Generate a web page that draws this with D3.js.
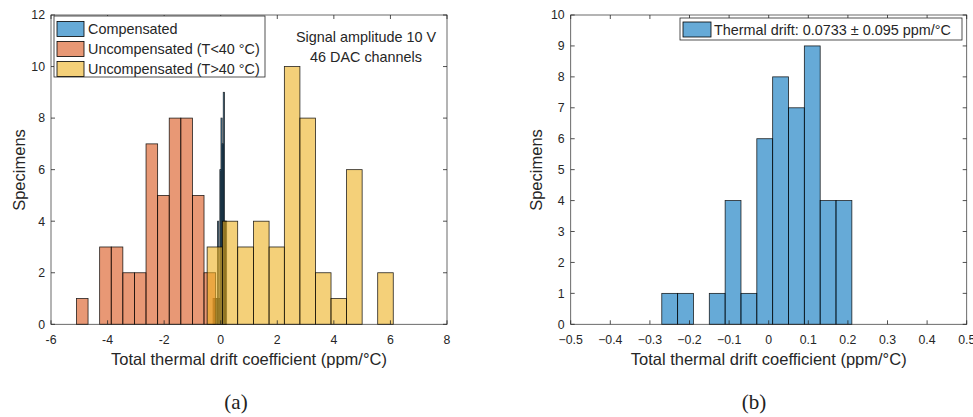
<!DOCTYPE html>
<html>
<head>
<meta charset="utf-8">
<script src="https://cdn.jsdelivr.net/npm/d3@7"></script>
<style>
  html, body { margin: 0; padding: 0; background: #fff; }
  svg { display: block; }
  text { font-family: "Liberation Sans", Arial, Helvetica, sans-serif; fill: #262626; }
  text.serif { font-family: "Liberation Serif", "DejaVu Serif", serif; fill: #222; }
</style>
</head>
<body>
<svg id="chart" width="973" height="417"></svg>
<script>
// ---------- data ----------
// Compensated channels (histogram bin edges + counts)
const compEdges  = [-0.27, -0.23, -0.19, -0.15, -0.11, -0.07, -0.03, 0.01, 0.05, 0.09, 0.13, 0.17, 0.21];
const compCounts = [1, 1, 0, 1, 4, 1, 6, 8, 7, 9, 4, 4];
// Uncompensated, T < 40 °C
const lowEdges  = [-5.10, -4.69, -4.28, -3.87, -3.46, -3.05, -2.64, -2.23, -1.82, -1.41, -1.00, -0.59, -0.18];
const lowCounts = [1, 0, 3, 3, 2, 2, 7, 5, 8, 8, 5, 2];
// Uncompensated, T > 40 °C
const highEdges  = [-0.48, 0.06, 0.60, 1.16, 1.71, 2.25, 2.80, 3.35, 3.90, 4.45, 5.00, 5.55, 6.10];
const highCounts = [3, 4, 3, 4, 3, 10, 8, 2, 1, 6, 0, 2];

const leftXTicks  = [-6, -4, -2, 0, 2, 4, 6, 8];
const leftYTicks  = [0, 2, 4, 6, 8, 10, 12];
const rightXTicks = [-0.5, -0.4, -0.3, -0.2, -0.1, 0, 0.1, 0.2, 0.3, 0.4, 0.5];
const rightYTicks = [0, 1, 2, 3, 4, 5, 6, 7, 8, 9, 10];

const seriesNames = ["Compensated", "Uncompensated (T<40 °C)", "Uncompensated (T>40 °C)"];
const rightLegend = "Thermal drift: 0.0733 \u00B1 0.095 ppm/\u00B0C";
const annotation = ["Signal amplitude 10 V", "46 DAC channels"];
const xLabel = "Total thermal drift coefficient (ppm/\u00B0C)";
const yLabel = "Specimens";
const panelLabels = ["(a)", "(b)"];

// ---------- styles ----------
const baseColors = ["#0072BD", "#D95319", "#EDB120"];
const faceAlpha = 0.6;
function overWhite(c) {
  const r = d3.rgb(c);
  return d3.rgb(r.r * faceAlpha + 255 * (1 - faceAlpha),
                r.g * faceAlpha + 255 * (1 - faceAlpha),
                r.b * faceAlpha + 255 * (1 - faceAlpha)).toString();
}
const axisColor = "#262626";

const svg = d3.select("#chart");

function bins(edges, counts) {
  return counts.map((c, i) => ({x0: edges[i], x1: edges[i + 1], n: c})).filter(d => d.n > 0);
}

function drawAxes(g, x, y, xt, yt, fmtX) {
  const [x0, x1] = x.range();
  const [y0, y1] = y.range();
  const tl = 4;
  g.selectAll(".xt").data(xt).enter().append("line")
    .attr("x1", d => x(d)).attr("x2", d => x(d)).attr("y1", y0).attr("y2", y0 - tl)
    .attr("stroke", axisColor).attr("stroke-width", 0.8);
  g.selectAll(".xtt").data(xt).enter().append("line")
    .attr("x1", d => x(d)).attr("x2", d => x(d)).attr("y1", y1).attr("y2", y1 + tl)
    .attr("stroke", axisColor).attr("stroke-width", 0.8);
  g.selectAll(".yt").data(yt).enter().append("line")
    .attr("x1", x0).attr("x2", x0 + tl).attr("y1", d => y(d)).attr("y2", d => y(d))
    .attr("stroke", axisColor).attr("stroke-width", 0.8);
  g.selectAll(".ytr").data(yt).enter().append("line")
    .attr("x1", x1).attr("x2", x1 - tl).attr("y1", d => y(d)).attr("y2", d => y(d))
    .attr("stroke", axisColor).attr("stroke-width", 0.8);
  g.append("rect").attr("x", x0).attr("y", y1).attr("width", x1 - x0).attr("height", y0 - y1)
    .attr("fill", "none").attr("stroke", axisColor).attr("stroke-width", 0.8).attr("stroke-opacity", 0.85);
  g.selectAll(".xl").data(xt).enter().append("text")
    .attr("x", d => x(d)).attr("y", y0 + 20)
    .attr("text-anchor", "middle").attr("font-size", 12.3)
    .text(fmtX);
  g.selectAll(".yl").data(yt).enter().append("text")
    .attr("x", x0 - 6).attr("y", d => y(d) + 4.3)
    .attr("text-anchor", "end").attr("font-size", 12.3)
    .text(d => d);
  g.append("text").attr("x", (x0 + x1) / 2).attr("y", y0 + 41)
    .attr("text-anchor", "middle").attr("font-size", 16.5).text(xLabel);
}

function drawBars(g, x, y, data, colorIdx) {
  g.selectAll(null).data(data).enter().append("rect")
    .attr("x", d => x(d.x0)).attr("width", d => x(d.x1) - x(d.x0))
    .attr("y", d => y(d.n)).attr("height", d => y(0) - y(d.n))
    .attr("fill", baseColors[colorIdx]).attr("fill-opacity", faceAlpha)
    .attr("stroke", "#000").attr("stroke-width", 0.8).attr("stroke-opacity", 0.85);
}

// ---------- left panel ----------
const gL = svg.append("g");
const xL = d3.scaleLinear().domain([-6, 8]).range([51, 447]);
const yL = d3.scaleLinear().domain([0, 12]).range([324.3, 15]);

drawBars(gL, xL, yL, bins(compEdges, compCounts), 0);
drawBars(gL, xL, yL, bins(lowEdges, lowCounts), 1);
drawBars(gL, xL, yL, bins(highEdges, highCounts), 2);
drawAxes(gL, xL, yL, leftXTicks, leftYTicks, d => d);

gL.append("text").attr("transform", "translate(25,170) rotate(-90)")
  .attr("text-anchor", "middle").attr("font-size", 16.5).text(yLabel);

const lg = gL.append("g");
lg.append("rect").attr("x", 54).attr("y", 16).attr("width", 211).attr("height", 61)
  .attr("fill", "#fff").attr("stroke", axisColor).attr("stroke-width", 0.8);
seriesNames.forEach((s, i) => {
  const cy = 29 + i * 20;
  lg.append("rect").attr("x", 57).attr("y", cy - 7.5).attr("width", 27).attr("height", 15)
    .attr("fill", overWhite(baseColors[i])).attr("stroke", "#000").attr("stroke-width", 0.8);
  lg.append("text").attr("x", 88).attr("y", cy + 5).attr("font-size", 14.4).text(s);
});

annotation.forEach((t, i) => {
  gL.append("text").attr("x", 366).attr("y", 42 + i * 19.5)
    .attr("text-anchor", "middle").attr("font-size", 14.4).text(t);
});

gL.append("text").attr("class", "serif").attr("x", 236).attr("y", 409)
  .attr("text-anchor", "middle").attr("font-size", 21)
  .text(panelLabels[0]);

// ---------- right panel ----------
const gR = svg.append("g");
const xR = d3.scaleLinear().domain([-0.5, 0.5]).range([570.7, 966.7]);
const yR = d3.scaleLinear().domain([0, 10]).range([324.3, 15]);

drawBars(gR, xR, yR, bins(compEdges, compCounts), 0);
drawAxes(gR, xR, yR, rightXTicks, rightYTicks, d => d === 0 ? "0" : d3.format(".1f")(d));

gR.append("text").attr("transform", "translate(542,170) rotate(-90)")
  .attr("text-anchor", "middle").attr("font-size", 16.5).text(yLabel);

const rg = gR.append("g");
rg.append("rect").attr("x", 680).attr("y", 18).attr("width", 282).attr("height", 22)
  .attr("fill", "#fff").attr("stroke", axisColor).attr("stroke-width", 0.8);
rg.append("rect").attr("x", 683).attr("y", 22).attr("width", 28).attr("height", 15)
  .attr("fill", overWhite(baseColors[0])).attr("stroke", "#000").attr("stroke-width", 0.8);
rg.append("text").attr("x", 714).attr("y", 35).attr("font-size", 14.4).text(rightLegend);

gR.append("text").attr("class", "serif").attr("x", 754).attr("y", 409)
  .attr("text-anchor", "middle").attr("font-size", 21)
  .text(panelLabels[1]);
</script>
</body>
</html>
